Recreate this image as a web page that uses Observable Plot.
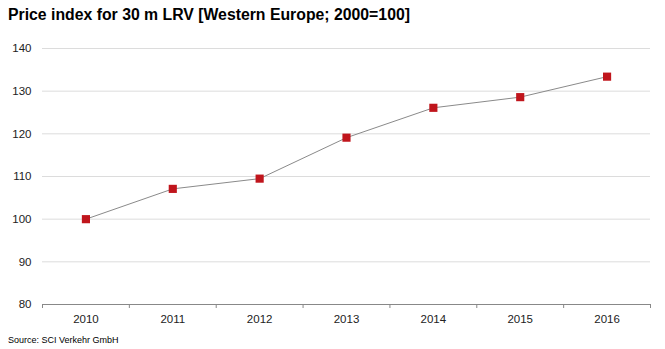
<!DOCTYPE html>
<html><head><meta charset="utf-8">
<script src="https://cdn.jsdelivr.net/npm/d3@7"></script>
<script src="https://cdn.jsdelivr.net/npm/@observablehq/plot@0.6"></script>
<style>
body{margin:0;background:#fff;font-family:"Liberation Sans",Arial,Helvetica,sans-serif;width:665px;height:349px;overflow:hidden}
#title{height:30px;box-sizing:border-box;padding:5px 0 0 8px;font-size:15.8px;font-weight:bold;color:#000;line-height:20px}
#src{font-size:9px;color:#000;padding-left:8px;line-height:12px}
svg{display:block}
</style></head><body>
<div id="title">Price index for 30 m LRV [Western Europe; 2000=100]</div>
<div id="chart"></div>
<div id="src">Source: SCI Verkehr GmbH</div>
<script>
const years = [2010, 2011, 2012, 2013, 2014, 2015, 2016];
const values = [100.0, 107.1, 109.5, 119.1, 126.1, 128.6, 133.4];
const yTicks = [80, 90, 100, 110, 120, 130, 140];

const data = years.map((y, i) => ({year: y, value: values[i]}));
const bounds = years.map(y => y - 0.5).concat([years[years.length - 1] + 0.5]);

const chart = Plot.plot({
  width: 665,
  height: 304,
  marginTop: 18,
  marginBottom: 30,
  marginLeft: 42,
  marginRight: 15,
  style: {fontFamily: '"Liberation Sans",Arial,Helvetica,sans-serif', fontSize: "11.5px", color: "#222", background: "#fff"},
  x: {domain: [bounds[0], bounds[bounds.length - 1]]},
  y: {domain: [80, 140]},
  marks: [
    Plot.gridY(yTicks.filter(d => d > 80), {stroke: "#dcdcdc", strokeOpacity: 1}),
    Plot.ruleY([80], {stroke: "#888"}),
    Plot.axisY(yTicks, {tickSize: 0, tickPadding: 11, label: null, fill: "#222"}),
    Plot.axisX(bounds, {tickSize: 4, stroke: "#888", tickFormat: () => "", label: null}),
    Plot.axisX(years, {tickSize: 0, tickPadding: 10, tickFormat: d => String(d), label: null, fill: "#222"}),
    Plot.line(data, {x: "year", y: "value", stroke: "#8a8a8a", strokeWidth: 1}),
    Plot.dot(data, {x: "year", y: "value", symbol: "square", r: 4.6, fill: "#c0151c", stroke: "none"})
  ]
});
document.getElementById("chart").appendChild(chart);
</script>
</body></html>
